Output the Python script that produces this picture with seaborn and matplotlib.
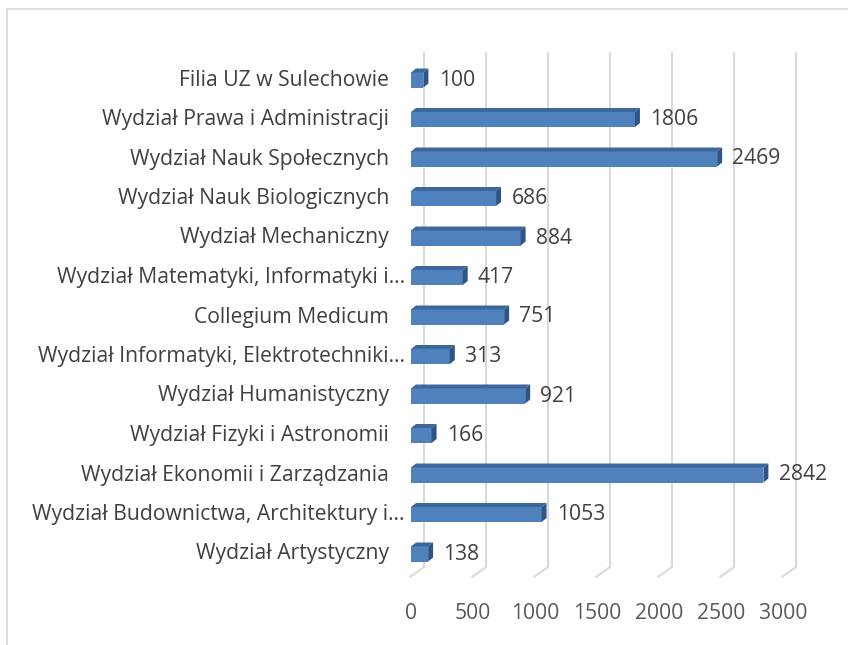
import numpy as np
import pandas as pd
import matplotlib
matplotlib.use("Agg")
import matplotlib.pyplot as plt
import matplotlib.transforms as mtransforms
from matplotlib.patches import Polygon
from matplotlib.lines import Line2D
import seaborn as sns

# ----------------------------- Data -----------------------------
faculties = [
    "Filia UZ w Sulechowie",
    "Wydział Prawa i Administracji",
    "Wydział Nauk Społecznych",
    "Wydział Nauk Biologicznych",
    "Wydział Mechaniczny",
    "Wydział Matematyki, Informatyki i…",
    "Collegium Medicum",
    "Wydział Informatyki, Elektrotechniki…",
    "Wydział Humanistyczny",
    "Wydział Fizyki i Astronomii",
    "Wydział Ekonomii i Zarządzania",
    "Wydział Budownictwa, Architektury i…",
    "Wydział Artystyczny",
]
students = [100, 1806, 2469, 686, 884, 417, 751, 313, 921, 166, 2842, 1053, 138]
x_ticks = [0, 500, 1000, 1500, 2000, 2500, 3000]

df = pd.DataFrame({"faculty": faculties, "n": students})

# ----------------------------- Style -----------------------------
sns.set_theme(style="white")
plt.rcParams['font.family'] = ['Open Sans', 'DejaVu Sans']

FRONT = "#4f81bd"
TOP = "#3c679c"
SIDE = "#2f5585"
GRID = "#d9d9d9"
TXT = "#404040"
FS = 15.2

W, H = 848, 645
fig = plt.figure(figsize=(W / 100, H / 100), dpi=100)
ax_top, ax_bot = 60.25, 573.75
ax = fig.add_axes([411 / W, (H - ax_bot) / H, 372 / W, (ax_bot - ax_top) / H])

sns.barplot(data=df, x="n", y="faculty", orient="h", color=FRONT,
            width=0.38, saturation=1, ax=ax, zorder=3, edgecolor="none")

ax.set_xlim(0, 3000)
ax.set_ylim(12.5, -0.5)
for s in ax.spines.values():
    s.set_visible(False)
ax.set_xlabel("")
ax.set_ylabel("")
ax.set_xticks(x_ticks)
ax.set_xticklabels([str(t) for t in x_ticks])
ax.tick_params(axis="x", length=0, pad=21, labelsize=FS, labelcolor="#595959")
ax.set_yticklabels([])
ax.tick_params(axis="y", length=0)

# category labels (truncated ones sit a bit further right, as in Excel)
ylab = ax.get_yaxis_transform()
for i, name in enumerate(faculties):
    shift = -6 if name.endswith("…") else -22
    tr = mtransforms.offset_copy(ylab, fig=fig, x=shift, y=0, units="dots")
    ax.text(0, i, name, transform=tr, ha="right", va="center",
            fontsize=FS, color=TXT)

# back-wall grid lines with floor diagonal
back = mtransforms.offset_copy(ax.get_xaxis_transform(), fig=fig, x=13, y=0, units="dots")
front = mtransforms.offset_copy(ax.get_xaxis_transform(), fig=fig, x=-1, y=0, units="dots")
for t in x_ticks:
    ax.add_line(Line2D([t, t], [0.013, 1.014], transform=back, color=GRID,
                       lw=1.5, zorder=1, clip_on=False))
    p_back = back.transform((t, 0.013))
    p_front = front.transform((t, -0.006))
    ax.add_line(Line2D([p_back[0], p_front[0]], [p_back[1], p_front[1]],
                       transform=None, color=GRID, lw=1.5, zorder=1, clip_on=False))

# 3D faces on the bars + value labels
dx, dy = 5, 4
for patch, val in zip(ax.patches, students):
    x0, y0 = patch.get_x(), patch.get_y()
    w, h = patch.get_width(), patch.get_height()
    (xl, yb), (xr, yt) = ax.transData.transform([(x0, y0 + h), (x0 + w, y0)])
    top = Polygon([(xl, yt), (xr, yt), (xr + dx, yt + dy), (xl + dx, yt + dy)],
                  closed=True, transform=None, facecolor=TOP, edgecolor="none", zorder=4)
    side = Polygon([(xr, yb), (xr + dx, yb + dy), (xr + dx, yt + dy), (xr, yt)],
                   closed=True, transform=None, facecolor=SIDE, edgecolor="none", zorder=4)
    ax.add_artist(top)
    ax.add_artist(side)
    ax.annotate(str(val), xy=(x0 + w, y0 + h / 2), xytext=(11, 0),
                textcoords="offset points", ha="left", va="center",
                fontsize=FS, color=TXT, zorder=5)

# chart border
fig.add_artist(Line2D([7 / W, 7 / W], [0, 1 - 9 / H], color=GRID, lw=1.2))
fig.add_artist(Line2D([7 / W, 1], [1 - 9 / H, 1 - 9 / H], color=GRID, lw=1.2))

fig.savefig("out.png", dpi=100)
